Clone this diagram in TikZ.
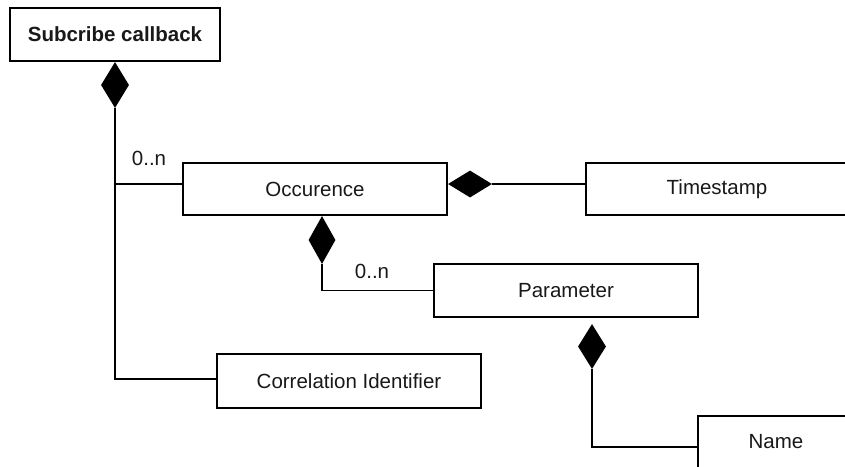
\documentclass[tikz,border=0pt]{standalone}
\usepackage{fontspec}
\setmainfont{Liberation Sans}
\usetikzlibrary{shapes.geometric}
\begin{document}
\begin{tikzpicture}[x=1pt,y=-1pt,
  every node/.style={font=\fontsize{20.5}{24}\selectfont, text=black!90},
  cls/.style={draw, line width=1.6pt, fill=white, inner sep=0pt},
  comp/.style={diamond, fill=black, inner sep=0pt, aspect=1},
  link/.style={line width=1.6pt},
  mult/.style={inner sep=0pt}]
  \useasboundingbox (0,0) rectangle (845,466);
  \clip (0,0) rectangle (845,466);
  \fill[white] (0,0) rectangle (845,466);

  % classes
  \node[cls, minimum width=210pt, minimum height=53pt, font=\fontsize{20.5}{24}\selectfont\bfseries]
    (sub) at (115,34.5) {Subcribe callback};
  \node[cls, minimum width=264pt, minimum height=52pt] (occ) at (315,189) {Occurence};
  \node[cls, minimum width=262pt, minimum height=52pt] (ts) at (717,189) {Timestamp};
  \node[cls, minimum width=264pt, minimum height=53pt] (param) at (566,290.5) {Parameter};
  \node[cls, minimum width=264pt, minimum height=54pt] (corr) at (349,381) {Correlation Identifier};
  \node[cls, minimum width=156pt, minimum height=52pt] (name) at (776,442) {Name};

  % composition diamonds
  \node[comp, minimum width=28pt, minimum height=46pt, anchor=north] (d1) at (sub.south) {};
  \node[comp, minimum width=44pt, minimum height=27pt, anchor=west] (d2) at ([yshift=5pt]occ.east) {};
  \node[comp, minimum width=27pt, minimum height=48pt, anchor=north] (d3) at ([xshift=7pt]occ.south) {};
  \node[comp, minimum width=28pt, minimum height=45pt, anchor=north] (d4) at ([xshift=26pt,yshift=-6pt]param.south) {};

  % connectors
  \coordinate (j1) at (d1.south |- corr.west);
  \draw[link] (d1.south) -- ([yshift=2pt]j1) -- ([yshift=2pt]corr.west);
  \draw[link] (d1.south |- d2.west) -- ([yshift=5pt]occ.west);
  \draw[link] (d2.east) -- (ts.west |- d2.east);
  \draw[link] (d3.south) |- (param.west);
  \draw[link] (d4.south) |- ([yshift=-5pt]name.west);

  % multiplicities
  \node[mult] (m1) at (149,158) {0..n};
  \node[mult] (m2) at (372,271) {0..n};
\end{tikzpicture}
\end{document}
